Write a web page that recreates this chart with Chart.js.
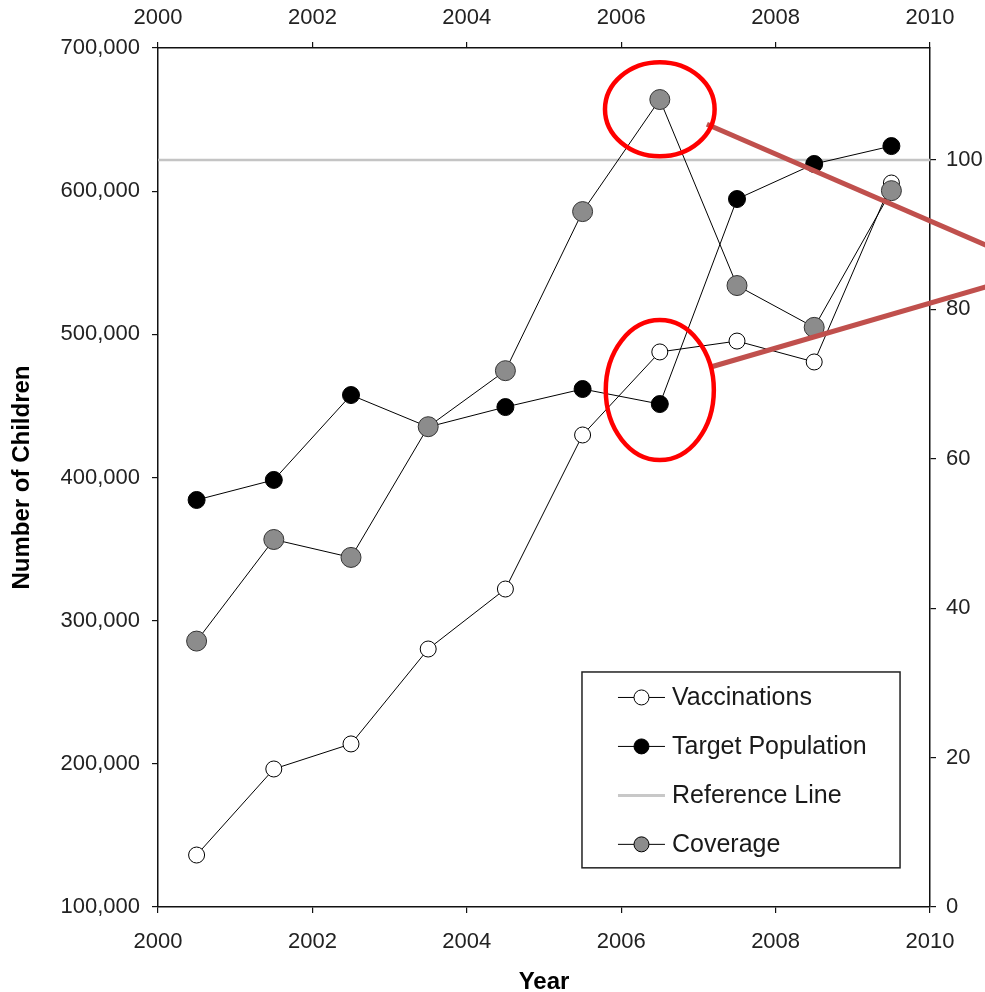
<!DOCTYPE html>
<html>
<head>
<meta charset="utf-8">
<script src="https://cdn.jsdelivr.net/npm/chart.js@4.4.0/dist/chart.umd.min.js"></script>
<style>
  html, body { margin: 0; padding: 0; background: #fff; }
  #wrap { width: 985px; height: 992px; position: relative; }
</style>
</head>
<body>
<div id="wrap"><canvas id="c" width="985" height="992"></canvas></div>
<script>
// ---- data ----
const years = [2000.5, 2001.5, 2002.5, 2003.5, 2004.5, 2005.5, 2006.5, 2007.5, 2008.5, 2009.5];
const vaccinations = [136300, 196400, 213900, 280200, 322100, 429700, 487700, 495300, 480700, 605700];
const targetPopulation = [384300, 398300, 457600, 435300, 449200, 461800, 451300, 594500, 619000, 631500];
const coverage = [35.6, 49.2, 46.8, 64.3, 71.8, 93.1, 108.1, 83.2, 77.6, 95.9];
const referenceX = [2000, 2010];
const referenceY = [100, 100];
const legendLabels = ['Vaccinations', 'Target Population', 'Reference Line', 'Coverage'];

// annotation shapes (data units): ellipses and callout lines
const ellipses = [
  { x: 2006.5, y: 106.8, axis: 'y1', rxYears: 0.71, ry: 6.3 },
  { x: 2006.5, y: 461100, axis: 'y', rxYears: 0.70, ry: 48900 }
];
const callouts = [
  { x1: 2007.11, y1: 104.8, x2: 2010.75, y2: 88.5, axis: 'y1' },
  { x1: 2007.16, y1: 477200, x2: 2010.75, y2: 533500, axis: 'y' }
];

const pts = (xs, ys) => xs.map((x, i) => ({ x: x, y: ys[i] }));
const FONT = "'Liberation Sans', Arial, sans-serif";
const TICK_COLOR = '#222';

const annotationPlugin = {
  id: 'annot',
  afterDatasetsDraw(chart) {
    const ctx = chart.ctx;
    const xs = chart.scales.x;
    ctx.save();
    ctx.strokeStyle = '#c0504d';
    ctx.lineWidth = 5;
    ctx.lineCap = 'butt';
    callouts.forEach(c => {
      const ys = chart.scales[c.axis];
      ctx.beginPath();
      ctx.moveTo(xs.getPixelForValue(c.x1), ys.getPixelForValue(c.y1));
      ctx.lineTo(xs.getPixelForValue(c.x2), ys.getPixelForValue(c.y2));
      ctx.stroke();
    });
    ctx.strokeStyle = '#ff0000';
    ctx.lineWidth = 4.5;
    ellipses.forEach(e => {
      const ys = chart.scales[e.axis];
      const cx = xs.getPixelForValue(e.x);
      const cy = ys.getPixelForValue(e.y);
      const rx = Math.abs(xs.getPixelForValue(e.x + e.rxYears) - cx);
      const ry = Math.abs(ys.getPixelForValue(e.y + e.ry) - cy);
      ctx.beginPath();
      ctx.ellipse(cx, cy, rx, ry, 0, 0, Math.PI * 2);
      ctx.stroke();
    });
    ctx.restore();
  }
};

const legendPlugin = {
  id: 'boxLegend',
  afterDraw(chart) {
    const ctx = chart.ctx;
    const a = chart.chartArea;
    const w = a.right - a.left;
    const h = a.bottom - a.top;
    const bx = a.left + w * 0.5492, by = a.top + h * 0.7264;
    const bw = w * 0.412, bh = h * 0.228;
    ctx.save();
    ctx.strokeStyle = '#222';
    ctx.lineWidth = 1.5;
    ctx.fillStyle = '#fff';
    ctx.fillRect(bx, by, bw, bh);
    ctx.strokeRect(bx, by, bw, bh);
    const rowH = bh / 4;
    const styles = [
      { line: '#000', lw: 1, fill: '#fff', r: 7.5, marker: true },
      { line: '#000', lw: 1, fill: '#000', r: 7.5, marker: true },
      { line: '#c8c8c8', lw: 3, marker: false },
      { line: '#000', lw: 1, fill: '#8c8c8c', r: 7.5, marker: true }
    ];
    legendLabels.forEach((lab, i) => {
      const y = by + rowH * (i + 0.5) + 1;
      const s = styles[i];
      const x1 = bx + 36, x2 = bx + 83;
      ctx.strokeStyle = s.line;
      ctx.lineWidth = s.lw;
      ctx.beginPath();
      ctx.moveTo(x1, y); ctx.lineTo(x2, y); ctx.stroke();
      if (s.marker) {
        ctx.beginPath();
        ctx.arc((x1 + x2) / 2, y, s.r, 0, Math.PI * 2);
        ctx.fillStyle = s.fill;
        ctx.fill();
        ctx.strokeStyle = '#000';
        ctx.lineWidth = 1;
        ctx.stroke();
      }
      ctx.fillStyle = '#1a1a1a';
      ctx.font = '25px ' + FONT;
      ctx.textBaseline = 'middle';
      ctx.textAlign = 'left';
      ctx.fillText(lab, x2 + 7, y + 1);
    });
    ctx.restore();
  }
};

const axisCommon = () => ({
  grid: { display: true, drawOnChartArea: false, drawTicks: true, tickLength: 6, color: '#111', lineWidth: 1.2 },
  border: { display: true, color: '#111', width: 1.5 },
});

new Chart(document.getElementById('c'), {
  type: 'line',
  data: {
    datasets: [
      {
        label: 'Coverage', yAxisID: 'y1', xAxisID: 'x',
        data: pts(years, coverage),
        borderColor: '#000', borderWidth: 1,
        pointBackgroundColor: '#8c8c8c', pointBorderColor: '#333', pointBorderWidth: 1,
        pointRadius: 10, tension: 0, order: 1
      },
      {
        label: 'Target Population', yAxisID: 'y', xAxisID: 'x',
        data: pts(years, targetPopulation),
        borderColor: '#000', borderWidth: 1,
        pointBackgroundColor: '#000', pointBorderColor: '#000', pointBorderWidth: 1,
        pointRadius: 8.5, tension: 0, order: 2
      },
      {
        label: 'Vaccinations', yAxisID: 'y', xAxisID: 'x',
        data: pts(years, vaccinations),
        borderColor: '#000', borderWidth: 1,
        pointBackgroundColor: '#fff', pointBorderColor: '#000', pointBorderWidth: 1,
        pointRadius: 8, tension: 0, order: 3
      },
      {
        label: 'Reference Line', yAxisID: 'y1', xAxisID: 'x',
        data: pts(referenceX, referenceY),
        borderColor: '#c4c4c4', borderWidth: 2.5,
        pointRadius: 0, tension: 0, order: 4
      }
    ]
  },
  options: {
    responsive: false,
    animation: false,
    layout: { padding: 0 },
    plugins: { legend: { display: false }, tooltip: { enabled: false } },
    scales: {
      x: {
        type: 'linear', position: 'bottom', min: 2000, max: 2010,
        ...axisCommon(),
        ticks: { stepSize: 2, color: TICK_COLOR, font: { size: 22, family: FONT }, padding: 16, maxRotation: 0, callback: v => String(v) },
        title: { display: true, text: 'Year', color: '#000', font: { size: 24, weight: 'bold', family: FONT, lineHeight: 0.8 }, padding: { top: 0, bottom: 0 } },
        afterFit: s => { s.height = 85; }
      },
      x2: {
        type: 'linear', position: 'top', min: 2000, max: 2010,
        ...axisCommon(),
        ticks: { stepSize: 2, color: TICK_COLOR, font: { size: 22, family: FONT }, padding: 11, maxRotation: 0, callback: v => String(v) },
        afterFit: s => { s.height = 48; }
      },
      y: {
        type: 'linear', position: 'left', min: 100000, max: 700000,
        ...axisCommon(),
        ticks: { stepSize: 100000, color: TICK_COLOR, font: { size: 22, family: FONT }, padding: 12,
          callback: v => v.toLocaleString('en-US') },
        title: { display: true, text: 'Number of Children', color: '#000', font: { size: 24, weight: 'bold', family: FONT }, padding: { top: 8, bottom: 0 } },
        afterFit: s => { s.width = 158; }
      },
      y1: {
        type: 'linear', position: 'right', min: 0, max: 115,
        ...axisCommon(),
        ticks: { stepSize: 20, color: TICK_COLOR, font: { size: 22, family: FONT }, padding: 10 },
        afterBuildTicks: s => { s.ticks = s.ticks.filter(t => t.value % 20 === 0); },
        afterFit: s => { s.width = 55; }
      }
    }
  },
  plugins: [legendPlugin, annotationPlugin]
});
</script>
</body>
</html>
